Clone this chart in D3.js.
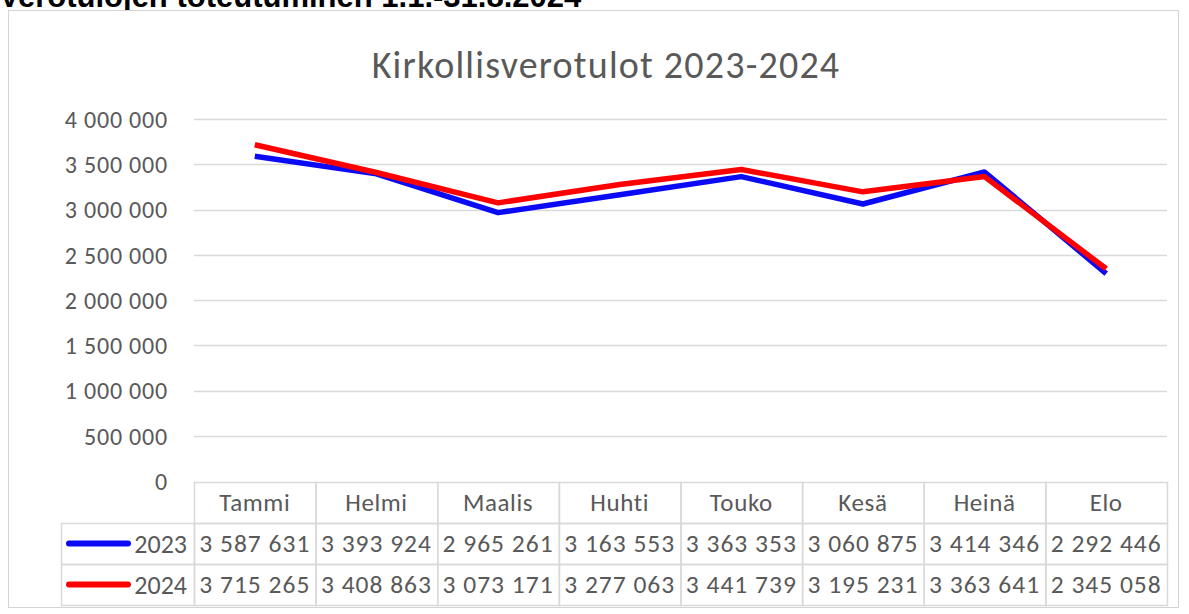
<!DOCTYPE html>
<html>
<head>
<meta charset="utf-8">
<script src="https://cdn.jsdelivr.net/npm/d3@7"></script>
<style>
  body { margin: 0; background: #fff; }
  svg text { font-family: Carlito, Lato, "Open Sans", sans-serif; fill: #595959; }
</style>
</head>
<body>
<svg id="chart" width="1189" height="614"></svg>
<script>
var months = ["Tammi", "Helmi", "Maalis", "Huhti", "Touko", "Kesä", "Heinä", "Elo"];
var years = ["2023", "2024"];
var values2023 = [3587631, 3393924, 2965261, 3163553, 3363353, 3060875, 3414346, 2292446];
var values2024 = [3715265, 3408863, 3073171, 3277063, 3441739, 3195231, 3363641, 2345058];
var yTicks = [0, 500000, 1000000, 1500000, 2000000, 2500000, 3000000, 3500000, 4000000];
var colors = ["#0a0af5", "#ff0000"];

var series = [values2023, values2024];

var svg = d3.select("#chart");

// page heading, cut off at the top like in the screenshot
svg.append("text")
  .attr("x", -1)
  .attr("y", 7)
  .style("font-family", "'Liberation Sans', Arial, sans-serif")
  .style("font-weight", "bold")
  .style("font-size", "31px")
  .style("fill", "#000")
  .text("Verotulojen toteutuminen 1.1.-31.8.2024");

// chart frame
svg.append("rect")
  .attr("x", 8.5).attr("y", 10.5)
  .attr("width", 1170).attr("height", 597)
  .attr("fill", "#fff")
  .attr("stroke", "#d4d4d4");

svg.append("text")
  .attr("x", 606)
  .attr("y", 78)
  .attr("text-anchor", "middle")
  .style("font-size", "38px")
  .style("letter-spacing", "1.2px")
  .text("Kirkollisverotulot 2023-2024");

var x = d3.scaleBand().domain(months).range([194, 1167]);
var y = d3.scaleLinear().domain([0, 4000000]).range([481, 119]);

var fmt = function(v) { return d3.format(",")(v).replace(/,/g, " "); };

// gridlines
svg.append("g")
  .selectAll("line")
  .data(yTicks.filter(d => d > 0))
  .enter()
  .append("line")
  .attr("x1", 194).attr("x2", 1167)
  .attr("y1", d => Math.round(y(d)) + 0.5)
  .attr("y2", d => Math.round(y(d)) + 0.5)
  .attr("stroke", "#d9d9d9")
  .attr("stroke-width", 1.5);

// y axis labels
var yAxis = svg.append("g")
  .attr("transform", "translate(168,0)")
  .call(d3.axisLeft(y).tickValues(yTicks).tickFormat(fmt).tickSize(0).tickPadding(0));
yAxis.select(".domain").remove();
yAxis.attr("font-family", null).attr("font-size", null);
yAxis.selectAll("text")
  .attr("dy", "0.35em")
  .attr("fill", null)
  .style("font-size", "24px")
  .style("letter-spacing", "0.8px");

// lines
var line = d3.line()
  .x((d, i) => x(months[i]) + x.bandwidth() / 2)
  .y(d => y(d));

svg.append("g")
  .selectAll("path")
  .data(series)
  .enter()
  .append("path")
  .attr("d", line)
  .attr("fill", "none")
  .attr("stroke", (d, i) => colors[i])
  .attr("stroke-width", 5.5)
  .attr("stroke-linejoin", "round");

// data table
var rowTop = [482, 523, 564];
var rowH = 41;
var legendLeft = 61;
var tbl = svg.append("g");

// header row
tbl.selectAll(".hcell")
  .data(months)
  .enter()
  .append("rect")
  .attr("class", "hcell")
  .attr("x", d => x(d) + 0.5)
  .attr("y", rowTop[0] + 0.5)
  .attr("width", x.bandwidth())
  .attr("height", rowH)
  .attr("fill", "none")
  .attr("stroke", "#d9d9d9")
  .attr("stroke-width", 1.5);

tbl.selectAll(".htext")
  .data(months)
  .enter()
  .append("text")
  .attr("x", d => x(d) + x.bandwidth() / 2)
  .attr("y", rowTop[0] + rowH / 2)
  .attr("dy", "0.35em")
  .attr("text-anchor", "middle")
  .style("font-size", "25px")
  .style("letter-spacing", "0.6px")
  .text(d => d);

series.forEach(function(vals, r) {
  var top = rowTop[r + 1];
  var g = tbl.append("g");

  g.append("rect")
    .attr("x", legendLeft + 0.5).attr("y", top + 0.5)
    .attr("width", x.range()[0] - legendLeft).attr("height", rowH)
    .attr("fill", "none").attr("stroke", "#d9d9d9").attr("stroke-width", 1.5);

  g.append("line")
    .attr("x1", 69).attr("x2", 128)
    .attr("y1", top + rowH / 2).attr("y2", top + rowH / 2)
    .attr("stroke", colors[r])
    .attr("stroke-width", 6)
    .attr("stroke-linecap", "round");

  g.append("text")
    .attr("x", 187)
    .attr("y", top + rowH / 2)
    .attr("dy", "0.35em")
    .attr("text-anchor", "end")
    .style("font-size", "26px")
    .text(years[r]);

  g.selectAll(".cell")
    .data(vals)
    .enter()
    .append("rect")
    .attr("x", (d, i) => x(months[i]) + 0.5)
    .attr("y", top + 0.5)
    .attr("width", x.bandwidth())
    .attr("height", rowH)
    .attr("fill", "none")
    .attr("stroke", "#d9d9d9")
    .attr("stroke-width", 1.5);

  g.selectAll(".val")
    .data(vals)
    .enter()
    .append("text")
    .attr("x", (d, i) => x(months[i]) + x.bandwidth() / 2)
    .attr("y", top + rowH / 2)
    .attr("dy", "0.35em")
    .attr("text-anchor", "middle")
    .style("font-size", "25.5px")
    .style("letter-spacing", "1px")
    .text(d => fmt(d));
});
</script>
</body>
</html>
